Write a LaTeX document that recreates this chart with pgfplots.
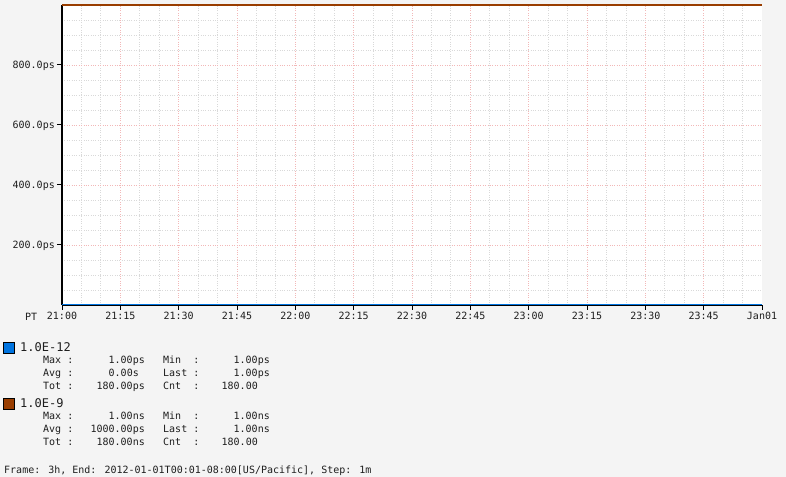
\documentclass[border=0pt]{standalone}
\usepackage{fontspec}
\setmainfont{DejaVu Sans Mono}
\usepackage{pgfplots}
\pgfplotsset{compat=1.18}
\definecolor{bgc}{HTML}{F4F4F4}
\definecolor{txt}{HTML}{1E1E1E}
\definecolor{majg}{HTML}{F2B8B8}
\definecolor{ming}{HTML}{D9D9D9}
\definecolor{serA}{HTML}{0074E0}
\definecolor{serB}{HTML}{993D00}
\begin{document}
\begin{tikzpicture}[x=1bp,y=1bp]
\fill[bgc] (0,0) rectangle (786,477);
\useasboundingbox (0,0) rectangle (786,477);
\fill[white] (62,172) rectangle (762,472);
\begin{axis}[
  at={(62bp,172bp)}, anchor=south west,
  scale only axis, width=700bp, height=300bp,
  xmin=0, xmax=180, ymin=0, ymax=1000,
  clip=false,
  axis line style={black, line width=1.2bp},
  axis x line*=bottom, axis y line*=left,
  xtick={0,15,...,165},
  xticklabels={21:00,21:15,21:30,21:45,22:00,22:15,22:30,22:45,23:00,23:15,23:30,23:45},
  extra x ticks={180},
  extra x tick labels={Jan01},
  extra x tick style={grid=none},
  ytick={200,400,600,800},
  yticklabels={200.0ps,400.0ps,600.0ps,800.0ps},
  minor xtick={5,10,20,25,35,40,50,55,65,70,80,85,95,100,110,115,125,130,140,145,155,160,170,175},
  minor ytick={50,100,150,250,300,350,450,500,550,650,700,750,850,900,950},
  grid=both,
  major grid style={majg, dotted, line width=0.8bp},
  minor grid style={ming, dotted, line width=0.8bp},
  tick align=outside,
  major tick length=5bp, minor tick length=0bp,
  tick style={black, line width=1bp},
  tick label style={font=\fontsize{10bp}{12bp}\selectfont, text=txt},
  xticklabel style={inner sep=1bp, yshift=-1bp},
  yticklabel style={inner sep=2bp, yshift=-1bp},
]
\addplot[serA, line width=1.6bp, no marks] coordinates {(0,1) (60,1) (120,1) (180,1)};
\addplot[serB, line width=1.6bp, no marks] coordinates {(0,1000) (60,1000) (120,1000) (180,1000)};
\end{axis}
\begin{scope}[every node/.style={inner sep=0pt, text=txt, font=\fontsize{10bp}{12bp}\selectfont}]
\node[anchor=base west] at (25,477-321) {PT};
% legend group 1
\filldraw[fill=serA, draw=black, line width=0.8bp] (3,477-353) rectangle (14,477-342);
\node[anchor=base west, font=\fontsize{12bp}{14bp}\selectfont] at (20,477-352) {1.0E-12};
\node[anchor=base west] at (43,477-364) {Max :};
\node[anchor=base east] at (145,477-364) {1.00ps};
\node[anchor=base west] at (163,477-364) {Min\ \ :};
\node[anchor=base east] at (270,477-364) {1.00ps};
\node[anchor=base west] at (43,477-377) {Avg :};
\node[anchor=base east] at (139,477-377) {0.00s};
\node[anchor=base west] at (163,477-377) {Last :};
\node[anchor=base east] at (270,477-377) {1.00ps};
\node[anchor=base west] at (43,477-390) {Tot :};
\node[anchor=base east] at (145,477-390) {180.00ps};
\node[anchor=base west] at (163,477-390) {Cnt\ \ :};
\node[anchor=base east] at (258,477-390) {180.00};
% legend group 2
\filldraw[fill=serB, draw=black, line width=0.8bp] (3,477-409) rectangle (14,477-398);
\node[anchor=base west, font=\fontsize{12bp}{14bp}\selectfont] at (20,477-408) {1.0E-9};
\node[anchor=base west] at (43,477-420) {Max :};
\node[anchor=base east] at (145,477-420) {1.00ns};
\node[anchor=base west] at (163,477-420) {Min\ \ :};
\node[anchor=base east] at (270,477-420) {1.00ns};
\node[anchor=base west] at (43,477-433) {Avg :};
\node[anchor=base east] at (145,477-433) {1000.00ps};
\node[anchor=base west] at (163,477-433) {Last :};
\node[anchor=base east] at (270,477-433) {1.00ns};
\node[anchor=base west] at (43,477-446) {Tot :};
\node[anchor=base east] at (145,477-446) {180.00ns};
\node[anchor=base west] at (163,477-446) {Cnt\ \ :};
\node[anchor=base east] at (258,477-446) {180.00};
\node[anchor=base west] at (4,477-474) {Frame: 3h, End: 2012-01-01T00:01-08:00[US/Pacific], Step: 1m};
\end{scope}
\end{tikzpicture}
\end{document}
